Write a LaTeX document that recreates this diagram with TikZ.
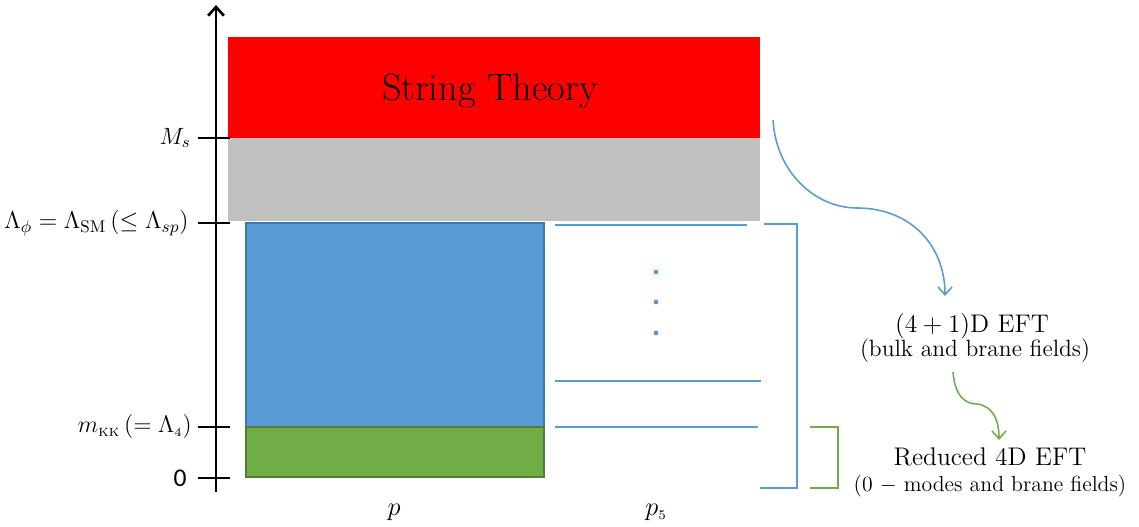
\RequirePackage{fix-cm}
\documentclass[tikz,border=0pt]{standalone}
\usepackage{fontspec}
\newfontfamily\calib{Carlito}
\usetikzlibrary{arrows.meta}
\definecolor{stred}{HTML}{FF0000}
\definecolor{stgray}{HTML}{C0C0C0}
\definecolor{stblue}{HTML}{5B9BD5}
\definecolor{stbluedark}{HTML}{3A78B8}
\definecolor{stgreen}{HTML}{70AD47}
\definecolor{stgreendark}{HTML}{507E32}
\tikzset{
  axisline/.style={line width=1.5pt,black},
  ticks/.style={line width=1.5pt,black},
  lvl/.style={stblue,line width=0.9pt},
  lbl/.style={anchor=east,inner sep=0pt,font=\fontsize{13.8}{16}\selectfont},
  eftbig/.style={font=\fontsize{14.5}{16}\selectfont,inner sep=0pt},
  eftsmall/.style={font=\fontsize{13.4}{15}\selectfont,inner sep=0pt},
}
\begin{document}
\begin{tikzpicture}[x=0.02cm,y=-0.02cm]
\useasboundingbox (0,0) rectangle (1139,527);
% regions
\fill[stred] (228,37) rectangle (760,138);
\node (st) at (490,91) {\fontsize{21.8}{26}\selectfont String Theory};
\fill[stgray] (228,138) rectangle (760,221);
\draw[stbluedark,fill=stblue,line width=0.7pt] (246,223) rectangle (544,427);
\draw[stgreendark,fill=stgreen,line width=0.7pt] (246,427) rectangle (544,477);
% axis
\coordinate (axb) at (216,492);
\coordinate (axt) at (216,5);
\draw[axisline,-{Straight Barb[length=5pt,width=9pt,line width=1.5pt]}] (axb) -- (axt);
\foreach \yy in {138,223,427,478}{\draw[ticks] (198,\yy) -- (230,\yy);}
\node[lbl,font=\fontsize{13.4}{15}\selectfont] (ms) at (191,138) {$M_s$};
\node[lbl] (lam) at (189,223) {$\Lambda_\phi=\Lambda_{\mathrm{SM}}\,(\leq\Lambda_{sp})$};
\node[lbl,font=\fontsize{13.6}{15}\selectfont] (mkk) at (192,427) {$m_{\scriptscriptstyle\mathrm{KK}}\,(=\Lambda_{\scriptscriptstyle 4})$};
\node[lbl,font=\calib\fontsize{14.5}{16}\selectfont] (zero) at (187,478) {0};
% p labels
\node[font=\fontsize{15}{17}\selectfont] (p) at (394,512) {$p$};
\node[font=\fontsize{15}{17}\selectfont] (p5) at (656,512) {$p_{\scriptscriptstyle 5}$};
% levels
\draw[lvl] (555,225) -- (747,225);
\draw[lvl] (555,381) -- (761,381);
\draw[lvl] (555,427) -- (758,427);
\foreach \yy in {272,302,333}{\fill[stblue] (656,\yy) circle (2.4);}
% brackets
\draw[stblue,line width=0.9pt] (764,224) -- (797,224) -- (797,488) -- (760,488);
\draw[stgreen,line width=0.9pt] (810,427) -- (838,427) -- (838,488) -- (810,488);
% EFT labels
\node[eftbig] (eft5) at (972,326) {$(4+1)$D EFT};
\node[eftsmall] (eft5b) at (975,351) {(bulk and brane fields)};
\node[eftbig] (eft4) at (990,457) {Reduced 4D EFT};
\node[font=\fontsize{12.4}{14}\selectfont,inner sep=0pt] (eft4b) at (990,486) {(0 $-$ modes and brane fields)};
% arrows
\coordinate (c1) at (773,120);
\coordinate (c1e) at (945,296);
\draw[stblue,line width=0.9pt,-{Straight Barb[length=4.5pt,width=8pt]}] (c1) .. controls (776,172) and (815,208) .. (857,208) .. controls (910,208) and (945,245) .. (c1e);
\coordinate (c2) at (953,372);
\coordinate (c2e) at (999,440);
\draw[stgreen,line width=0.9pt,-{Straight Barb[length=4.5pt,width=8pt]}] (c2) .. controls (955,396) and (965,404) .. (977,404) .. controls (993,406) and (999,420) .. (c2e);
\end{tikzpicture}
\end{document}
